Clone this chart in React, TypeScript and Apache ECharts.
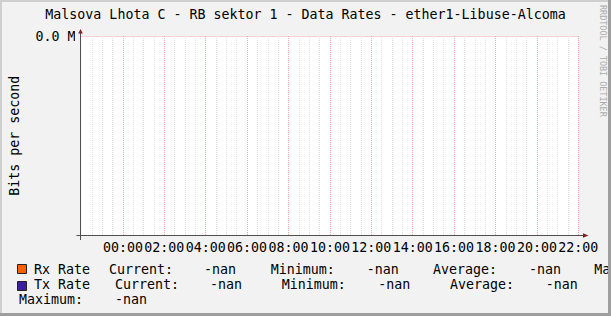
import React, { useEffect, useRef } from 'react';
import * as echarts from 'echarts';

const titleText = 'Malsova Lhota C - RB sektor 1 - Data Rates - ether1-Libuse-Alcoma';
const yAxisName = 'Bits per second';
const watermarkText = 'RRDTOOL / TOBI OETIKER';
const timeLabels = ['00:00', '02:00', '04:00', '06:00', '08:00', '10:00', '12:00', '14:00', '16:00', '18:00', '20:00', '22:00'];
const hourMin = 0;
const hourMax = 24;
const yTickLabels = ['', '0.0 M'];
const seriesNames = ['Rx Rate', 'Tx Rate'];
const seriesColors = ['#ff5f00', '#3b1fa0'];
const rxValues: [number, number][] = [];
const txValues: [number, number][] = [];
const statLabels = ['Current:', 'Minimum:', 'Average:', 'Maximum:'];
const rxStats = ['-nan', '-nan', '-nan', '-nan'];
const txStats = ['-nan', '-nan', '-nan', '-nan'];

const FONT = 'DejaVu Sans Mono';
const FS = 13.3;

export default function App() {
  const ref = useRef<HTMLDivElement>(null);
  useEffect(() => {
    const chart = echarts.init(ref.current!, null, { renderer: 'svg' });

    const txt = (text: string, x: number, y: number, extra: any = {}) => ({
      type: 'text',
      x,
      y,
      z: 12,
      silent: true,
      style: {
        text,
        fill: '#000',
        fontFamily: FONT,
        fontSize: FS,
        align: 'left',
        verticalAlign: 'middle',
        ...extra,
      },
    });

    const graphics: any[] = [];
    // mask strip left of the y axis
    graphics.push({ type: 'rect', z: 10, silent: true, shape: { x: 75, y: 30, width: 5.5, height: 205 }, style: { fill: '#f2f2f2' } });
    // axes
    graphics.push({ type: 'line', z: 11, silent: true, shape: { x1: 80.5, y1: 33, x2: 80.5, y2: 240 }, style: { stroke: '#505050', lineWidth: 1 } });
    graphics.push({ type: 'line', z: 11, silent: true, shape: { x1: 76.5, y1: 235.5, x2: 583, y2: 235.5 }, style: { stroke: '#505050', lineWidth: 1 } });
    graphics.push({ type: 'polygon', z: 11, silent: true, shape: { points: [[80.5, 29], [78.2, 33.5], [82.8, 33.5]] }, style: { fill: '#801f1f' } });
    graphics.push({ type: 'polygon', z: 11, silent: true, shape: { points: [[588.5, 235.5], [583, 233.2], [583, 237.8]] }, style: { fill: '#801f1f' } });

    // legend: [label x, value x (null = beyond the picture), row]
    const rowY = [269, 284.6, 299.8];
    const swatchY = [264.5, 281.5];
    const statPos: [number, number | null, number][][] = [
      [[109, 204, 0], [270.7, 366.7, 0], [433, 529, 0], [594.3, null, 0]],
      [[115, 210, 1], [281.7, 378.3, 1], [450, 545.7, 1], [19, 115, 2]],
    ];
    const allStats = [rxStats, txStats];
    seriesNames.forEach((name, i) => {
      graphics.push({
        type: 'rect', z: 12, silent: true,
        shape: { x: 17.5, y: swatchY[i], width: 9, height: 9 },
        style: { fill: seriesColors[i], stroke: '#222', lineWidth: 1 },
      });
      graphics.push(txt(name, 34, rowY[i]));
      statLabels.forEach((lab, j) => {
        const [lx, vx, r] = statPos[i][j];
        graphics.push(txt(lab, lx, rowY[r]));
        if (vx !== null) graphics.push(txt(allStats[i][j], vx, rowY[r]));
      });
    });

    // watermark
    graphics.push({
      type: 'text', z: 12, silent: true, x: 602.5, y: 5, rotation: -Math.PI / 2,
      style: { text: watermarkText, fill: '#ababab', fontFamily: FONT, fontSize: 8.45, align: 'left', verticalAlign: 'middle' },
    });

    // frame
    graphics.push({ type: 'rect', z: 12, silent: true, shape: { x: 0, y: 0, width: 611, height: 2 }, style: { fill: '#cfcfcf' } });
    graphics.push({ type: 'rect', z: 12, silent: true, shape: { x: 0, y: 0, width: 2, height: 316 }, style: { fill: '#cfcfcf' } });
    graphics.push({ type: 'rect', z: 13, silent: true, shape: { x: 608, y: 0, width: 3, height: 316 }, style: { fill: '#9e9e9e' } });
    graphics.push({ type: 'rect', z: 13, silent: true, shape: { x: 0, y: 313, width: 611, height: 3 }, style: { fill: '#9e9e9e' } });

    chart.setOption({
      animation: false,
      backgroundColor: '#f2f2f2',
      title: {
        text: titleText,
        left: 'center',
        top: 7.5,
        padding: 0,
        textStyle: { fontFamily: FONT, fontSize: FS, fontWeight: 'normal', color: '#000', lineHeight: 14 },
      },
      grid: {
        left: 77.6,
        right: 32.7,
        top: 36,
        bottom: 80.5,
        show: true,
        backgroundColor: '#ffffff',
        borderWidth: 0,
      },
      xAxis: {
        type: 'value',
        min: hourMin,
        max: hourMax,
        interval: 2,
        axisLine: { show: false },
        axisTick: { show: false },
        minorTick: { show: false, splitNumber: 4 },
        axisLabel: {
          margin: 4.5,
          fontFamily: FONT,
          fontSize: FS,
          color: '#000',
          lineHeight: 14,
          formatter: (v: number) => (v >= 2 ? timeLabels[Math.round(v / 2) - 1] ?? '' : ''),
        },
        splitLine: { show: true, showMinLine: false, lineStyle: { color: '#f2a6a6', width: 1, type: [1, 1] } },
        minorSplitLine: { show: true, lineStyle: { color: '#e0e0e0', width: 1, type: [1, 1] } },
      },
      yAxis: {
        type: 'value',
        min: 0,
        max: 1,
        interval: 1,
        name: yAxisName,
        nameLocation: 'middle',
        nameGap: 67,
        nameRotate: 90,
        nameTextStyle: { fontFamily: FONT, fontSize: FS, color: '#000', align: 'center', verticalAlign: 'middle' },
        axisLine: { show: false },
        axisTick: { show: false },
        axisLabel: {
          margin: 6,
          fontFamily: FONT,
          fontSize: FS,
          color: '#000',
          formatter: (v: number) => yTickLabels[Math.round(v)] ?? '',
        },
        splitLine: { show: true, showMinLine: false, lineStyle: { color: '#f2a6a6', width: 1, type: [1, 1] } },
      },
      series: [
        { name: seriesNames[0], type: 'line', data: rxValues, showSymbol: false, lineStyle: { color: seriesColors[0] } },
        { name: seriesNames[1], type: 'line', data: txValues, showSymbol: false, lineStyle: { color: seriesColors[1] } },
      ],
      graphic: { elements: graphics },
    });
    return () => chart.dispose();
  }, []);
  return <div ref={ref} style={{ position: 'fixed', left: 0, top: 0, width: 611, height: 316 }} />;
}
